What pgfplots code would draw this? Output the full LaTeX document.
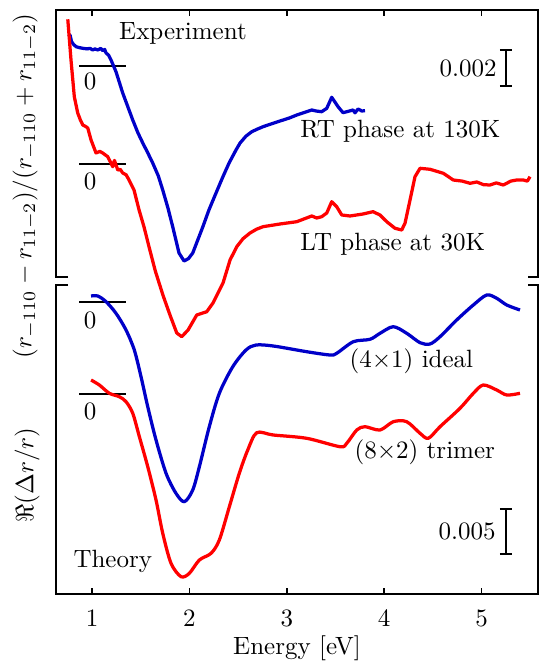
\documentclass[border=0pt]{standalone}
\usepackage{pgfplots}
\pgfplotsset{compat=1.18}
\definecolor{cblue}{RGB}{0,0,200}
\definecolor{cred}{RGB}{255,0,0}
\begin{document}
\begin{tikzpicture}
% ---------------- top panel: experiment ----------------
\begin{axis}[
  at={(22.4pt,-4pt)}, anchor=north west,
  scale only axis, width=192.8pt, height=106.8pt,
  xmin=0.630, xmax=5.579, ymin=-11.722, ymax=3.111,
  clip=false,
  axis line style={draw=none},
  xtick=\empty,
  ytick=\empty,
  ylabel={$(r_{-110}-r_{11-2})/(r_{-110}+r_{11-2})$},
  ylabel style={at={(axis description cs:-0.064,0.341)}, anchor=center},
]
\draw[line width=0.8pt] (rel axis cs:0.025,0) -- (rel axis cs:0,0) -- (rel axis cs:0,1) -- (rel axis cs:1,1) -- (rel axis cs:1,0) -- (rel axis cs:0.979,0);
% top ticks
\draw[line width=0.7pt] (axis cs:1,3.111) -- (axis cs:1,2.778)
  (axis cs:2,3.111) -- (axis cs:2,2.778)
  (axis cs:3,3.111) -- (axis cs:3,2.778)
  (axis cs:4,3.111) -- (axis cs:4,2.778)
  (axis cs:5,3.111) -- (axis cs:5,2.778);
% zero lines
\addplot[black, line width=0.5pt] coordinates {(0.867,0) (1.349,0)};
\addplot[black, line width=0.5pt] coordinates {(0.867,-5.444) (1.349,-5.444)};
% RT phase (blue)
\addplot[cblue, line width=1.3pt, line join=round] table[x=E, y=v] {
E v
0.761 1.628
0.774 1.722
0.790 1.35
0.810 1.20
0.836 1.072
0.870 1.02
0.905 0.983
0.950 0.95
0.980 0.98
1.007 0.889
1.030 0.95
1.059 0.889
1.090 0.98
1.110 0.85
1.130 0.92
1.144 0.722
1.170 0.60
1.195 0.333
1.246 -0.317
1.315 -1.5
1.370 -2.30
1.418 -3.0
1.470 -3.70
1.521 -4.278
1.570 -4.80
1.623 -5.389
1.680 -6.10
1.726 -6.889
1.780 -7.90
1.829 -8.944
1.893 -10.389
1.945 -10.833
1.990 -10.70
2.034 -10.389
2.137 -8.944
2.200 -8.00
2.273 -7.056
2.340 -6.20
2.407 -5.389
2.478 -4.667
2.520 -4.278
2.580 -3.90
2.640 -3.65
2.700 -3.50
2.756 -3.372
2.850 -3.20
2.930 -3.056
3.020 -2.90
3.102 -2.722
3.180 -2.58
3.256 -2.444
3.300 -2.50
3.358 -2.539
3.410 -2.35
3.461 -1.739
3.526 -2.261
3.577 -2.594
3.630 -2.52
3.680 -2.444
3.700 -2.60
3.731 -2.389
3.770 -2.50
3.803 -2.483
};
% LT phase (red)
\addplot[cred, line width=1.3pt, line join=round] table[x=E, y expr=\thisrow{v}-5.444] {
E v
0.751 8.039
0.784 5.778
0.818 3.739
0.853 2.833
0.880 2.45
0.905 2.167
0.930 2.10
0.956 2.0
0.990 1.333
1.041 0.611
1.080 0.70
1.110 0.611
1.161 0.406
1.190 0.10
1.213 -0.15
1.230 0.20
1.264 -0.333
1.290 -0.30
1.315 -0.5
1.350 -0.60
1.380 -0.889
1.431 -1.444
1.483 -2.556
1.534 -3.5
1.585 -4.60
1.650 -5.95
1.729 -7.30
1.801 -8.40
1.870 -9.389
1.921 -9.594
1.986 -9.222
2.075 -8.389
2.178 -8.206
2.242 -7.722
2.345 -6.611
2.417 -5.333
2.486 -4.594
2.550 -4.15
2.622 -3.833
2.690 -3.62
2.756 -3.483
2.930 -3.333
3.102 -3.206
3.256 -2.889
3.307 -3.0
3.358 -2.928
3.410 -2.722
3.461 -2.094
3.512 -2.372
3.564 -2.833
3.649 -2.889
3.782 -2.778
3.885 -2.65
3.957 -2.833
4.026 -3.206
4.111 -3.572
4.180 -3.667
4.214 -3.278
4.265 -2.0
4.316 -0.706
4.368 -0.239
4.470 -0.294
4.607 -0.517
4.709 -0.889
4.800 -0.95
4.881 -1.072
4.950 -1.00
5.020 -1.15
5.086 -1.167
5.150 -1.05
5.223 -1.167
5.300 -0.95
5.360 -0.889
5.428 -0.889
5.470 -0.95
5.497 -0.706
};
% labels
\node[inner sep=0] at (axis cs:1.934,1.833) {Experiment};
\node[inner sep=0, anchor=west] at (axis cs:3.135,-3.611) {RT phase at 130K};
\node[inner sep=0, anchor=west] at (axis cs:3.135,-9.889) {LT phase at 30K};
\node[inner sep=0] at (axis cs:0.98,-0.872) {$0$};
\node[inner sep=0] at (axis cs:0.98,-6.428) {$0$};
\node[inner sep=0, anchor=east] at (axis cs:5.158,-0.111) {$0.002$};
\draw[line width=0.6pt] (axis cs:5.188,0.889) -- (axis cs:5.312,0.889)
  (axis cs:5.25,0.889) -- (axis cs:5.25,-1.111)
  (axis cs:5.188,-1.111) -- (axis cs:5.312,-1.111);
\end{axis}
% ---------------- bottom panel: theory ----------------
\begin{axis}[
  at={(22.4pt,-114pt)}, anchor=north west,
  scale only axis, width=192.8pt, height=123.6pt,
  xmin=0.630, xmax=5.579, ymin=-32.444, ymax=1.889,
  clip=false,
  axis line style={draw=none},
  xtick={1,2,3,4,5}, xtick pos=left,
  ytick=\empty,
  major tick length=2.4pt,
  every tick/.style={black, line width=0.7pt},
  xticklabel style={yshift=-3pt},
  xlabel={Energy [eV]},
  xlabel style={yshift=3.1pt},
  ylabel={$\Re(\Delta r/r)$},
  ylabel style={at={(axis description cs:-0.060,0.385)}, anchor=center},
]
\draw[line width=0.8pt] (rel axis cs:0.025,1) -- (rel axis cs:0,1) -- (rel axis cs:0,0) -- (rel axis cs:1,0) -- (rel axis cs:1,1) -- (rel axis cs:0.979,1);
\addplot[black, line width=0.5pt] coordinates {(0.867,0) (1.349,0)};
\addplot[black, line width=0.5pt] coordinates {(0.867,-10.222) (1.349,-10.222)};
% (4x1) ideal (blue)
\addplot[cblue, line width=1.3pt, line join=round, smooth] table[x=E, y=v] {
E v
0.990 0.667
1.059 0.667
1.144 0.033
1.246 -1.256
1.349 -3.111
1.434 -5.333
1.503 -8.3
1.572 -11.633
1.657 -15.333
1.760 -19.033
1.862 -21.256
1.948 -22.189
2.034 -20.889
2.102 -18.3
2.204 -13.856
2.307 -10.144
2.445 -7.189
2.581 -5.333
2.684 -4.778
2.861 -4.889
3.204 -5.522
3.444 -5.889
3.512 -5.7
3.683 -4.411
3.854 -4.144
3.957 -3.478
4.093 -2.744
4.231 -3.478
4.368 -4.522
4.470 -4.667
4.573 -3.856
4.744 -2.0
4.915 -0.333
5.052 0.778
5.155 0.411
5.258 -0.333
5.394 -0.889
};
% (8x2) trimer (red)
\addplot[cred, line width=1.3pt, line join=round, smooth] table[x=E, y expr=\thisrow{v}-10.222] {
E v
0.990 1.556
1.075 1.0
1.178 0.078
1.280 -0.3
1.349 -0.856
1.418 -2.144
1.486 -4.744
1.572 -8.078
1.657 -11.778
1.726 -15.478
1.811 -18.811
1.914 -20.3
1.999 -19.922
2.102 -18.444
2.222 -17.7
2.307 -16.222
2.410 -12.522
2.512 -8.811
2.599 -6.222
2.691 -4.3
2.861 -4.556
3.204 -4.922
3.546 -5.856
3.615 -5.478
3.718 -4.0
3.803 -3.633
3.957 -4.0
4.093 -3.078
4.231 -3.078
4.368 -4.367
4.453 -4.922
4.573 -3.633
4.778 -1.589
4.915 0.078
5.017 1.0
5.155 0.444
5.258 -0.111
5.394 0.078
};
\node[inner sep=0, anchor=west] at (axis cs:3.639,-6.633) {(4$\times$1) ideal};
\node[inner sep=0, anchor=west] at (axis cs:3.690,-16.667) {(8$\times$2) trimer};
\node[inner sep=0, anchor=west] at (axis cs:0.805,-28.856) {Theory};
\node[inner sep=0] at (axis cs:0.98,-2.0) {$0$};
\node[inner sep=0] at (axis cs:0.98,-12.19) {$0$};
\node[inner sep=0, anchor=east] at (axis cs:5.148,-25.444) {$0.005$};
\draw[line width=0.6pt] (axis cs:5.188,-23) -- (axis cs:5.312,-23)
  (axis cs:5.25,-23) -- (axis cs:5.25,-28)
  (axis cs:5.188,-28) -- (axis cs:5.312,-28);
\end{axis}
\pgfresetboundingbox
\useasboundingbox (0,0) rectangle (216pt,-264.4pt);
\end{tikzpicture}
\end{document}
